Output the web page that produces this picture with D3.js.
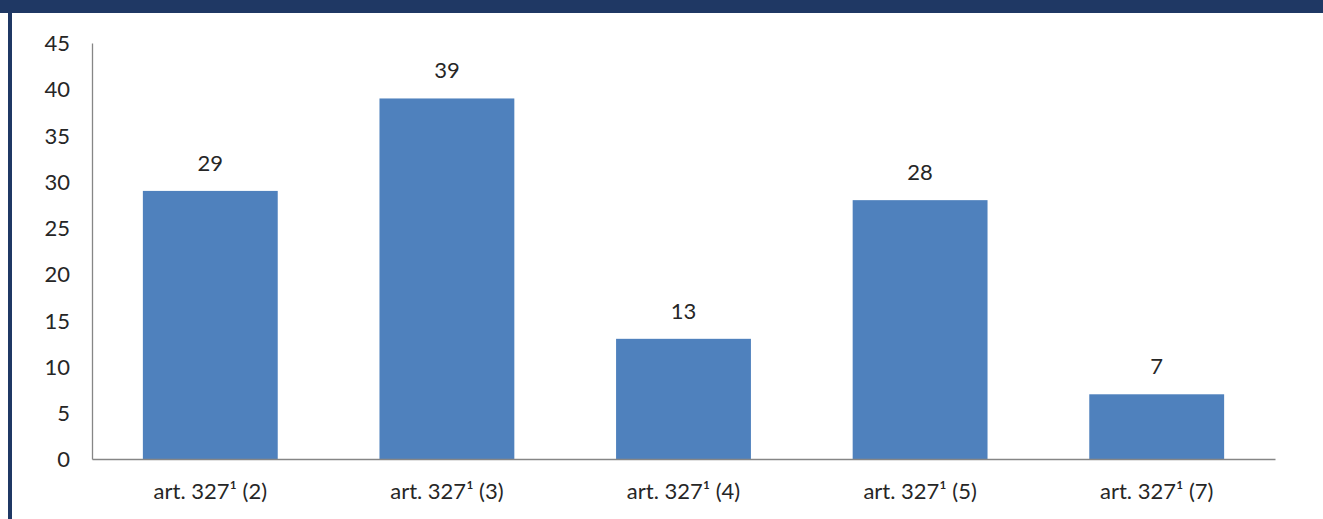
<!DOCTYPE html>
<html>
<head>
<meta charset="utf-8">
<script src="https://cdn.jsdelivr.net/npm/d3@7"></script>
<style>
  body { margin: 0; background: #fff; }
  svg text { font-family: Lato, "Open Sans", sans-serif; fill: #262626; }
</style>
</head>
<body>
<svg width="1323" height="519"></svg>
<script>
const categories = ["art. 327¹ (2)", "art. 327¹ (3)", "art. 327¹ (4)", "art. 327¹ (5)", "art. 327¹ (7)"];
const values = [29, 39, 13, 28, 7];
const yTicks = [0, 5, 10, 15, 20, 25, 30, 35, 40, 45];

const svg = d3.select("svg"),
    width = +svg.attr("width"),
    height = +svg.attr("height");

// frame: navy top band + thin left strip
svg.append("rect").attr("x", 0).attr("y", 0).attr("width", width).attr("height", 13).attr("fill", "#1f3864");
svg.append("rect").attr("x", 8).attr("y", 0).attr("width", 4).attr("height", height).attr("fill", "#1f3864");

const margin = {left: 92, right: 48, top: 43, bottom: 60};
const x = d3.scaleBand()
    .domain(categories)
    .range([margin.left, width - margin.right])
    .paddingInner(0.43)
    .paddingOuter(0.215);
const y = d3.scaleLinear()
    .domain([0, 45])
    .range([height - margin.bottom, margin.top]);

const g = svg.append("g");

g.selectAll("rect.bar")
    .data(values)
    .enter().append("rect")
    .attr("class", "bar")
    .attr("x", (d, i) => x(categories[i]))
    .attr("y", (d) => y(d))
    .attr("width", x.bandwidth())
    .attr("height", (d) => y(0) - y(d))
    .attr("fill", "#4f81bd");

g.selectAll("text.val")
    .data(values)
    .enter().append("text")
    .attr("class", "val")
    .attr("x", (d, i) => x(categories[i]) + x.bandwidth() / 2)
    .attr("y", (d) => y(d) - 20)
    .attr("text-anchor", "middle")
    .style("font-size", "22px")
    .text((d) => d);

// y axis
const yAxis = g.append("g")
    .attr("transform", `translate(${margin.left},0)`)
    .call(d3.axisLeft(y).tickValues(yTicks).tickSize(0).tickPadding(22));
yAxis.select(".domain").attr("stroke", "#868686").attr("stroke-width", 1.3);
yAxis.selectAll("text").style("font-size", "22px").attr("dy", "0.35em");

// x axis
const xAxis = g.append("g")
    .attr("transform", `translate(0,${y(0)})`)
    .call(d3.axisBottom(x).tickSize(0).tickPadding(24));
xAxis.select(".domain").attr("stroke", "#868686").attr("stroke-width", 1.3);
xAxis.selectAll("text").style("font-size", "22px");
</script>
</body>
</html>
